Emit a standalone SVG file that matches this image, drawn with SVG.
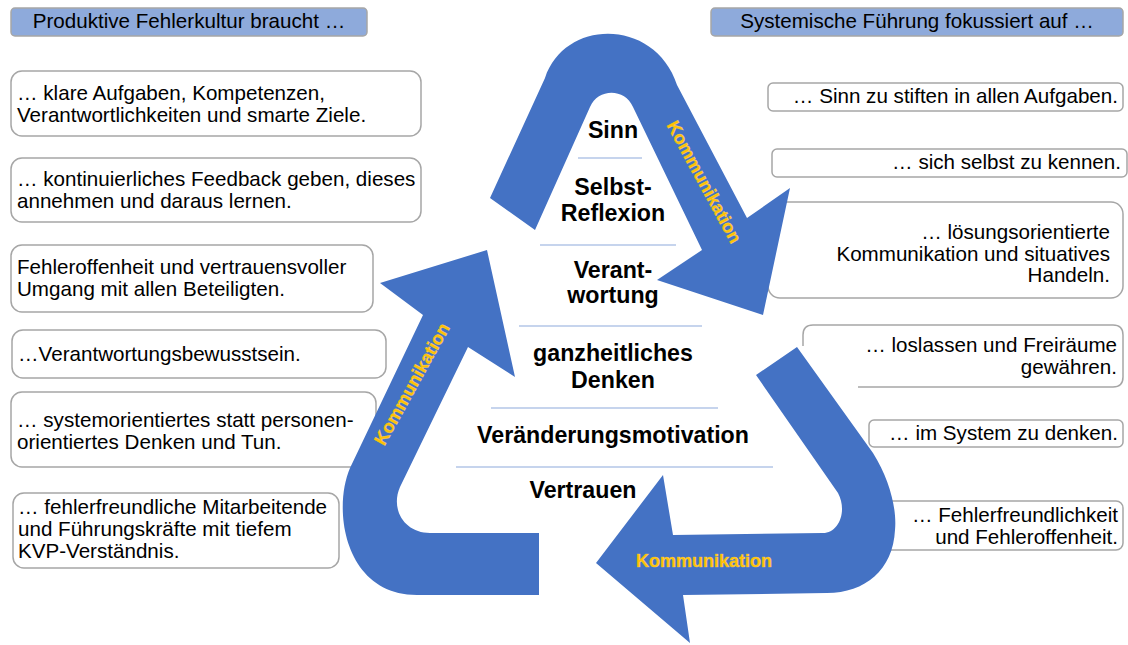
<svg xmlns="http://www.w3.org/2000/svg" width="1128" height="645" viewBox="0 0 1128 645">
<style>
.box{fill:#ffffff;stroke:#a6a6a6;stroke-width:1.5}
.hdr{fill:#8eaadb;stroke:#a6a6a6;stroke-width:1.5}
.t{font-family:"Liberation Sans",Arial,sans-serif;font-size:20.6px;fill:#000}
.r{text-anchor:end}
.c{font-family:"Liberation Sans",Arial,sans-serif;font-size:23.2px;font-weight:bold;fill:#000;text-anchor:middle}
.sep{stroke:#8eaadb;stroke-width:1.2}
.arrow{fill:#4472c4}
.k{font-family:"Liberation Sans",Arial,sans-serif;font-size:18px;font-weight:bold;fill:#ffc000;text-anchor:middle;stroke:#ffd966;stroke-width:0.7;stroke-opacity:0.6}
</style>
<rect width="1128" height="645" fill="#ffffff"/>

<g id="header-left">
<rect class="hdr" x="11" y="8" width="356" height="28" rx="4"/>
<text class="t" x="189" y="28" text-anchor="middle">Produktive Fehlerkultur braucht …</text>
</g>
<g id="header-right">
<rect class="hdr" x="711" y="8" width="412" height="28" rx="4"/>
<text class="t" x="917" y="28" text-anchor="middle">Systemische Führung fokussiert auf …</text>
</g>

<g id="left-1">
<rect class="box" x="11" y="71" width="410" height="65" rx="11"/>
<text class="t" x="17" y="100">… klare Aufgaben, Kompetenzen,</text>
<text class="t" x="17" y="121.5">Verantwortlichkeiten und smarte Ziele.</text>
</g>
<g id="left-2">
<rect class="box" x="11" y="158" width="410" height="64" rx="11"/>
<text class="t" x="17" y="186">… kontinuierliches Feedback geben, dieses</text>
<text class="t" x="17" y="207.5">annehmen und daraus lernen.</text>
</g>
<g id="left-3">
<rect class="box" x="11" y="245" width="362" height="67" rx="11"/>
<text class="t" x="17" y="274">Fehleroffenheit und vertrauensvoller</text>
<text class="t" x="17" y="296">Umgang mit allen Beteiligten.</text>
</g>
<g id="left-4">
<rect class="box" x="12" y="330" width="374" height="48" rx="11"/>
<text class="t" x="18" y="361">…Verantwortungsbewusstsein.</text>
</g>
<g id="left-5">
<rect class="box" x="11" y="392" width="365" height="75" rx="11"/>
<text class="t" x="17" y="427">… systemorientiertes statt personen-</text>
<text class="t" x="17" y="448.5">orientiertes Denken und Tun.</text>
</g>
<g id="left-6">
<rect class="box" x="13" y="493" width="326" height="75" rx="11"/>
<text class="t" x="18" y="514">… fehlerfreundliche Mitarbeitende</text>
<text class="t" x="18" y="536">und Führungskräfte mit tiefem</text>
<text class="t" x="18" y="558">KVP-Verständnis.</text>
</g>

<g id="right-1">
<rect class="box" x="768" y="83" width="355" height="28" rx="5"/>
<text class="t r" x="1118" y="103">… Sinn zu stiften in allen Aufgaben.</text>
</g>
<g id="right-2">
<rect class="box" x="772" y="149" width="355" height="28" rx="5"/>
<text class="t r" x="1121" y="169">… sich selbst zu kennen.</text>
</g>
<g id="right-3">
<rect class="box" x="768" y="202" width="355" height="96" rx="12"/>
<text class="t r" x="1110" y="239">… lösungsorientierte</text>
<text class="t r" x="1110" y="260.5">Kommunikation und situatives</text>
<text class="t r" x="1110" y="282">Handeln.</text>
</g>
<g id="right-4">
<path class="box" fill="none" d="M803 346 V335 Q803 325 813 325 H1113 Q1123 325 1123 335 V377 Q1123 387 1113 387 H858"/>
<text class="t r" x="1117" y="352">… loslassen und Freiräume</text>
<text class="t r" x="1117" y="373.5">gewähren.</text>
</g>
<g id="right-5">
<rect class="box" x="869" y="420" width="254" height="27" rx="5"/>
<text class="t r" x="1118" y="440">… im System zu denken.</text>
</g>
<g id="right-6">
<rect class="box" x="880" y="501" width="243" height="49" rx="7"/>
<text class="t r" x="1118" y="522">…  Fehlerfreundlichkeit</text>
<text class="t r" x="1118" y="544">und Fehleroffenheit.</text>
</g>

<g id="connectors">
<path id="arrow-top" class="arrow" d="M490 198 L545 78 C565 18 655 18 677 85 L747 218 L790 188 L763 315 L657 280 L702 250 L633 107 C625 88 598 88 590 107 L535 230 Z"/>
<path id="arrow-left" class="arrow" d="M487 250 L515 377 L468 347 L400 487 C390 510 405 533 430 533 L539 533 L539 595 L417 595 C345 595 332 510 350 468 L423 315 L380 283 Z"/>
<path id="arrow-bottom" class="arrow" d="M756 375 L797 347 L873 453 C890 480 897 510 895 530 C893 570 865 593 827 593 L683 595 L690 643 L596 563 L663 475 L673 535 L823 533 C838 533 848 512 838 493 Z"/>
<text class="k" transform="translate(704 182) rotate(61.5)" y="6">Kommunikation</text>
<text class="k" transform="translate(412 384) rotate(-61)" y="6">Kommunikation</text>
<text class="k" x="704" y="567">Kommunikation</text>
</g>

<g id="center-stack">
<text class="c" x="613" y="138">Sinn</text>
<line class="sep" x1="578" y1="158" x2="642" y2="158"/>
<text class="c" x="613" y="195">Selbst-</text>
<text class="c" x="613" y="221">Reflexion</text>
<line class="sep" x1="540" y1="245" x2="676" y2="245"/>
<text class="c" x="613" y="278">Verant-</text>
<text class="c" x="613" y="303">wortung</text>
<line class="sep" x1="519" y1="326" x2="702" y2="326"/>
<text class="c" x="613" y="361">ganzheitliches</text>
<text class="c" x="613" y="388">Denken</text>
<line class="sep" x1="491" y1="408" x2="718" y2="408"/>
<text class="c" x="613" y="443">Veränderungsmotivation</text>
<line class="sep" x1="456" y1="467" x2="773" y2="467"/>
<text class="c" x="583" y="498">Vertrauen</text>
</g>
</svg>
